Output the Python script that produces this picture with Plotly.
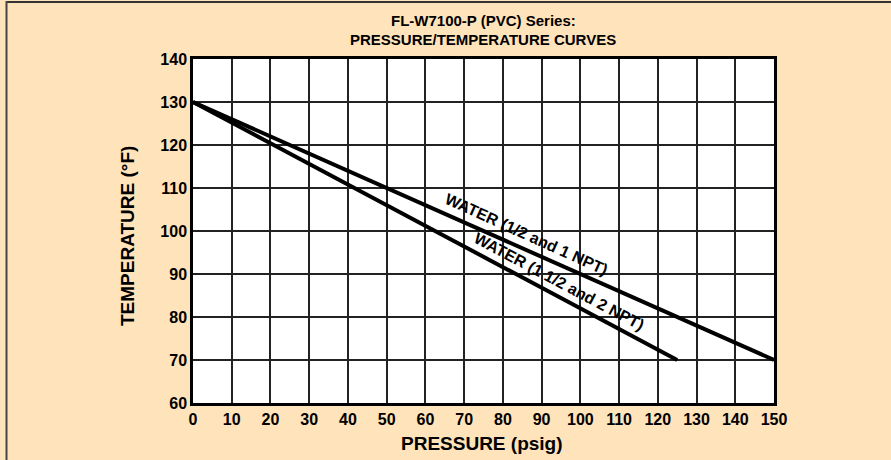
import plotly.graph_objects as go

# Data
pressure_small = [0, 150]          # WATER (1/2 and 1 NPT)
temp_small = [130, 70]
pressure_large = [0, 125]          # WATER (1 1/2 and 2 NPT)
temp_large = [130, 70]
x_ticks = list(range(0, 151, 10))
y_ticks = list(range(60, 141, 10))
title_lines = ["FL-W7100-P (PVC) Series:", "PRESSURE/TEMPERATURE CURVES"]

BG = "#FFE3BA"
FONT = "Liberation Sans, Arial, Helvetica, sans-serif"

W, H = 891, 460
L, R, T, B = 193, 774, 59, 403

def px(x):
    return (x - L) / (R - L)

def py(y):
    return (B - y) / (B - T)

fig = go.Figure()
fig.add_trace(go.Scatter(x=pressure_small, y=temp_small, mode="lines",
                         line=dict(color="black", width=4), showlegend=False,
                         hoverinfo="skip"))
fig.add_trace(go.Scatter(x=pressure_large, y=temp_large, mode="lines",
                         line=dict(color="black", width=4), showlegend=False,
                         hoverinfo="skip"))

axis_common = dict(
    showgrid=True, gridcolor="#222222", gridwidth=1.5,
    showline=True, linecolor="black", linewidth=2.5, mirror=True,
    zeroline=False, ticks="",
    tickfont=dict(family=FONT, size=16, color="black", weight="bold"),
)

fig.update_layout(
    width=W, height=H,
    paper_bgcolor=BG, plot_bgcolor="white",
    margin=dict(l=L, r=W - R, t=T, b=H - B),
    font=dict(family=FONT, color="black"),
    xaxis=dict(range=[0, 150], tickvals=x_ticks, **axis_common),
    yaxis=dict(range=[60, 140], tickvals=y_ticks, **axis_common),
)

for txt, yc in zip(title_lines, [20.5, 39.5]):
    fig.add_annotation(text=txt, xref="paper", yref="paper",
                       x=px(483), y=py(yc), showarrow=False,
                       xanchor="center", yanchor="middle",
                       font=dict(family=FONT, size=15, color="black", weight="bold"))

annots = [
    dict(text="WATER (1/2 and 1 NPT)", x=86.2, y=99.1, textangle=24.3),
    dict(text="WATER (1 1/2 and 2 NPT)", x=94.5, y=88.2, textangle=28),
]
for a in annots:
    fig.add_annotation(text=a["text"], x=a["x"], y=a["y"], xref="x", yref="y",
                       textangle=a["textangle"], showarrow=False,
                       font=dict(family=FONT, size=16, color="black", weight="bold"))

fig.add_annotation(text="PRESSURE (psig)", xref="paper", yref="paper",
                   x=px(482), y=py(443), showarrow=False, yanchor="middle",
                   font=dict(family=FONT, size=19, color="black", weight="bold"))
fig.add_annotation(text="TEMPERATURE (°F)", xref="paper", yref="paper",
                   x=px(127), y=py(236), showarrow=False, textangle=-90,
                   xanchor="center", yanchor="middle",
                   font=dict(family=FONT, size=19, color="black", weight="bold"))

# figure frame (top and left edges)
fig.add_shape(type="line", xref="paper", yref="paper",
              x0=px(6), x1=px(W + 5), y0=py(2), y1=py(2),
              line=dict(color="#333333", width=2))
fig.add_shape(type="line", xref="paper", yref="paper",
              x0=px(6.5), x1=px(6.5), y0=py(1), y1=py(H + 5),
              line=dict(color="#444444", width=2))

fig.write_html("out.html", config={"displayModeBar": False},
               post_script="document.body.style.margin='0px';document.body.style.overflow='hidden';")
